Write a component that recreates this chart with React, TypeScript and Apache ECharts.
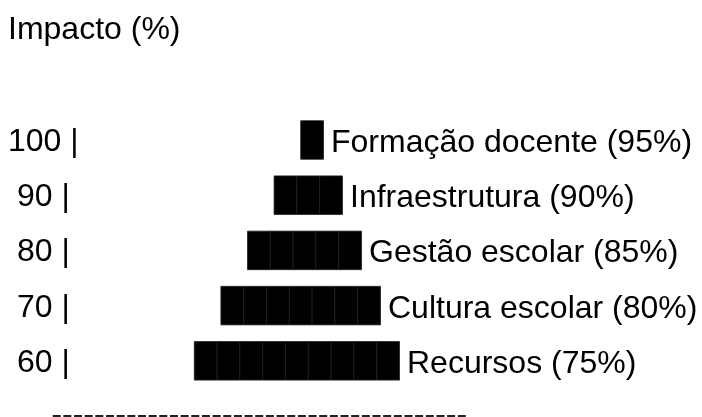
import React, { useEffect, useRef } from "react";
import * as echarts from "echarts";

const chartTitle = "Impacto (%)";
const ticks = [100, 90, 80, 70, 60];
const factors = ["Formação docente", "Infraestrutura", "Gestão escolar", "Cultura escolar", "Recursos"];
const impact = [95, 90, 85, 80, 75];
const blocks = [1, 3, 5, 7, 9];

const FONT = "'Liberation Sans', Arial, Helvetica, sans-serif";

export default function App() {
  const ref = useRef<HTMLDivElement>(null);

  useEffect(() => {
    const chart = echarts.init(ref.current!, null, { renderer: "svg" });
    const maxBlocks = Math.max(...blocks);
    const drift = 7 / 12;
    const data = blocks.map((n, i) => {
      const start = (maxBlocks - n) * drift;
      return [start, start + n, i, n];
    });

    chart.setOption({
      animation: false,
      grid: { left: 194.3, right: 51.7, top: 112.4, bottom: 28.6 },
      xAxis: { type: "value", min: 0, max: 20, show: false },
      yAxis: {
        type: "category",
        inverse: true,
        data: ticks.map(String),
        axisLine: { show: false },
        axisTick: { show: false },
        splitLine: { show: false },
        axisLabel: {
          align: "left",
          margin: 186.3,
          fontSize: 32,
          fontFamily: FONT,
          color: "#000",
          formatter: (v: string) => v.padStart(3, "\u00a0") + " |",
        },
      },
      series: [
        {
          type: "custom",
          data,
          encode: { x: [0, 1], y: 2 },
          renderItem: (params: any, api: any) => {
            const s = api.value(0);
            const n = api.value(3);
            const yi = api.value(2);
            const h = api.size([0, 1])[1] * 0.698;
            const children: any[] = [];
            for (let j = 0; j < n; j++) {
              const p0 = api.coord([s + j, yi]);
              const p1 = api.coord([s + j + 1, yi]);
              children.push({
                type: "rect",
                shape: { x: p0[0], y: p0[1] - h / 2, width: p1[0] - p0[0], height: h },
                style: { fill: "#000", stroke: "#1e1e1e", lineWidth: 0.8 },
              });
            }
            const end = api.coord([s + n, yi]);
            const i = params.dataIndex;
            children.push({
              type: "text",
              x: end[0] + 7.5,
              y: end[1] + 1,
              style: {
                text: `${factors[i]} (${impact[i]}%)`,
                fontSize: 32,
                fontFamily: FONT,
                fill: "#000",
                align: "left",
                verticalAlign: "middle",
              },
            });
            return { type: "group", children };
          },
        },
      ],
      graphic: [
        {
          type: "text",
          x: 8,
          y: 28,
          style: {
            text: chartTitle,
            fontSize: 32,
            fontFamily: FONT,
            fill: "#000",
            align: "left",
            verticalAlign: "middle",
          },
        },
        {
          type: "line",
          shape: { x1: 52.7, y1: 416, x2: 468, y2: 416 },
          style: { stroke: "#222", lineWidth: 2, lineDash: [8, 2.66] },
        },
      ],
    });

    return () => chart.dispose();
  }, []);

  return (
    <div
      ref={ref}
      style={{ position: "fixed", left: 0, top: 0, width: 702, height: 417 }}
    />
  );
}
